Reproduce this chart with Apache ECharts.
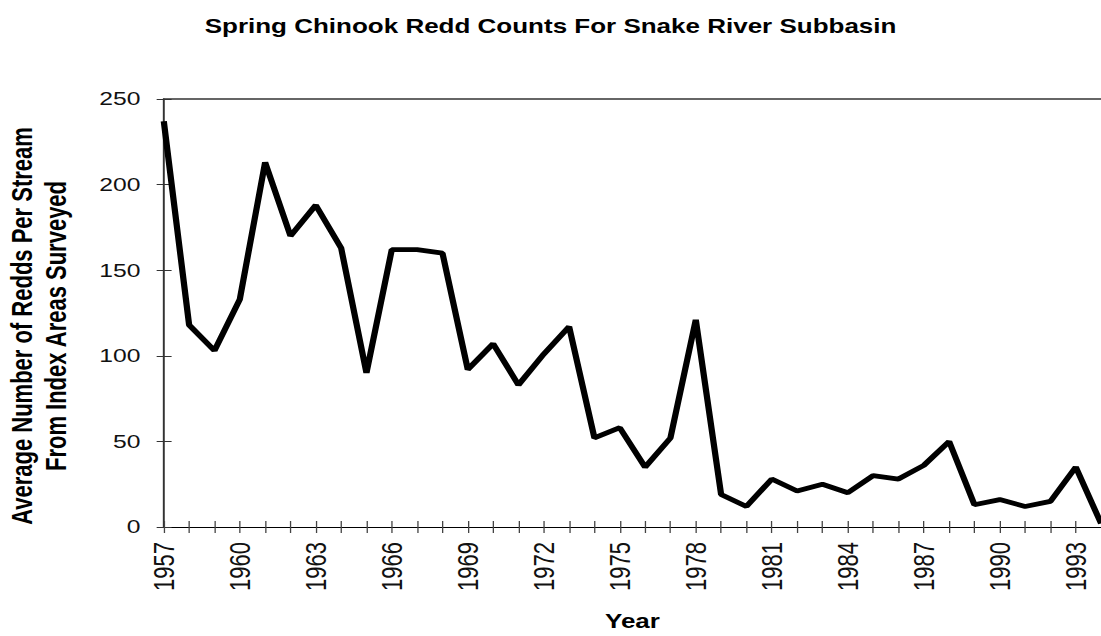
<!DOCTYPE html>
<html>
<head>
<meta charset="utf-8">
<script src="https://cdn.jsdelivr.net/npm/echarts@6/dist/echarts.min.js"></script>
<style>
  html, body { margin: 0; padding: 0; background: #fff; overflow: hidden; }
  /* the reference picture is stretched sideways, so the chart is drawn narrower and scaled */
  #chart { width: 847px; height: 636px; transform: scaleX(1.3); transform-origin: 0 0; }
</style>
</head>
<body>
<div id="chart"></div>
<script>
const years = ['1957','1958','1959','1960','1961','1962','1963','1964','1965','1966',
  '1967','1968','1969','1970','1971','1972','1973','1974','1975','1976',
  '1977','1978','1979','1980','1981','1982','1983','1984','1985','1986',
  '1987','1988','1989','1990','1991','1992','1993','1994'];
const redds = [237, 118, 103, 133, 213, 170, 188, 163, 90, 162,
  162, 160, 92, 107, 83, 101, 117, 52, 58, 35,
  52, 121, 19, 12, 28, 21, 25, 20, 30, 28,
  36, 50, 13, 16, 12, 15, 35, 2];
const yMin = 0, yMax = 250, yStep = 50;

const font = 'Liberation Sans, Arial, sans-serif';
const chart = echarts.init(document.getElementById('chart'), null, { renderer: 'svg' });

chart.setOption({
  animation: false,
  backgroundColor: '#fff',
  title: {
    text: 'Spring Chinook Redd Counts For Snake River Subbasin',
    left: 'center',
    top: 11,
    textStyle: { fontFamily: font, fontSize: 20, fontWeight: 'bold', color: '#000' }
  },
  grid: { left: 126, top: 99, width: 725, height: 435, containLabel: false },
  graphic: [{
    type: 'text',
    x: 30,
    y: 326,
    rotation: Math.PI / 2,
    style: {
      text: 'Average Number of Redds Per Stream\nFrom Index Areas Surveyed',
      font: 'bold 22px ' + font,
      fill: '#000',
      align: 'center',
      verticalAlign: 'middle',
      textAlign: 'center',
      textVerticalAlign: 'middle',
      lineHeight: 26
    }
  }],
  xAxis: [{
    type: 'category',
    data: years,
    boundaryGap: false,
    name: 'Year',
    nameLocation: 'middle',
    nameGap: 84,
    nameTextStyle: { fontFamily: font, fontSize: 20, fontWeight: 'bold', color: '#000' },
    axisLine: { lineStyle: { color: '#000', width: 1.2 } },
    axisTick: { interval: 0, length: 6, lineStyle: { color: '#444' } },
    axisLabel: { interval: 2, rotate: 90, margin: 15, fontFamily: font, fontSize: 22, color: '#111' }
  }, {
    type: 'category',
    data: years,
    boundaryGap: false,
    position: 'bottom',
    axisLine: { show: false },
    axisTick: { interval: 0, inside: true, length: 6, lineStyle: { color: '#444' } },
    axisLabel: { show: false }
  }, {
    type: 'category',
    data: years,
    boundaryGap: false,
    position: 'top',
    axisLine: { lineStyle: { color: '#333', width: 1.5 } },
    axisTick: { show: false },
    axisLabel: { show: false }
  }],
  yAxis: [{
    type: 'value',
    min: yMin, max: yMax, interval: yStep,
    axisLine: { show: true, lineStyle: { color: '#333', width: 1.5 } },
    axisTick: { show: true, length: 5.5, lineStyle: { color: '#333' } },
    splitLine: { show: false },
    axisLabel: { margin: 18, fontFamily: font, fontSize: 19, color: '#111' }
  }, {
    type: 'value',
    min: yMin, max: yMax, interval: yStep,
    position: 'left',
    axisLine: { show: false },
    axisTick: { show: true, inside: true, length: 6, lineStyle: { color: '#333' } },
    splitLine: { show: false },
    axisLabel: { show: false }
  }],
  series: [{
    type: 'line',
    data: redds,
    xAxisIndex: 0,
    yAxisIndex: 0,
    showSymbol: false,
    symbol: 'none',
    lineStyle: { color: '#000', width: 4.8 }
  }]
});
</script>
</body>
</html>
